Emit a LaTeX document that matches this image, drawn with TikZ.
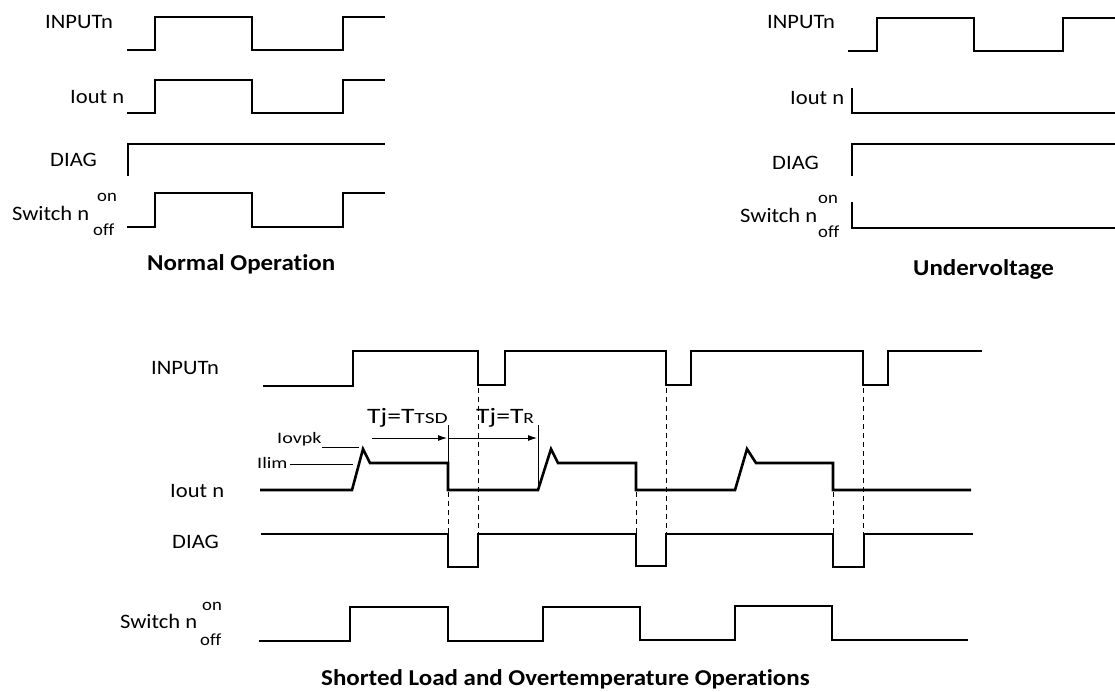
\documentclass[tikz,border=0pt]{standalone}
\usepackage{fontspec}
\setmainfont{Carlito}[FakeStretch=1.1, Ligatures=NoCommon]
\usetikzlibrary{arrows.meta}
\begin{document}
\begin{tikzpicture}[x=1pt,y=-1pt,
  lbl/.style={inner sep=0pt, anchor=base west, font=\fontsize{20.5}{24}\selectfont},
  onoff/.style={inner sep=0pt, anchor=base west, font=\fontsize{17}{20}\selectfont},
  ttl/.style={inner sep=0pt, anchor=base west, font=\fontsize{22.7}{26}\selectfont\bfseries},
  ann/.style={inner sep=0pt, anchor=base west, xscale=1.14, font=\fontsize{16}{19}\selectfont},
  tjl/.style={inner sep=0pt, anchor=base west, xscale=1.14, font=\fontsize{22}{26}\selectfont},
  wave/.style={line width=2.6pt, line join=miter},
  guide/.style={line width=0.8pt, dash pattern=on 5pt off 4pt},
  thinline/.style={line width=0.9pt},
  tarrow/.style={line width=0.9pt, -{Latex[length=9pt,width=6pt]}},
]
\useasboundingbox (0,0) rectangle (1115,691);

% ---------- Normal Operation ----------
\node[lbl] (nin) at (45,28) {INPUTn};
\node[lbl] (nio) at (70,103) {Iout n};
\node[lbl] (ndg) at (50,166) {DIAG};
\node[lbl] (nsw) at (12,220) {Switch n};
\node[onoff] (non) at (97,201) {on};
\node[onoff] (nof) at (93,235) {off};
\node[ttl] (ntt) at (147,270) {Normal Operation};

\draw[wave] (127,50) -- (155,50) -- (155,17) -- (252,17) -- (252,50) -- (343,50) -- (343,17) -- (385,17);
\draw[wave] (127,113) -- (155,113) -- (155,80) -- (252,80) -- (252,113) -- (343,113) -- (343,80) -- (385,80);
\draw[wave] (128,176) -- (128,144) -- (385,144);
\draw[wave] (127,227) -- (155,227) -- (155,193) -- (252,193) -- (252,227) -- (343,227) -- (343,193) -- (385,193);

% ---------- Undervoltage ----------
\node[lbl] (uin) at (767,28) {INPUTn};
\node[lbl] (uio) at (790,104) {Iout n};
\node[lbl] (udg) at (772,169) {DIAG};
\node[lbl] (usw) at (740,222) {Switch n};
\node[onoff] (uon) at (818,203) {on};
\node[onoff] (uof) at (818,237) {off};
\node[ttl] (utt) at (913,275) {Undervoltage};

\draw[wave] (848,51) -- (877,51) -- (877,18) -- (974,18) -- (974,51) -- (1063,51) -- (1063,18) -- (1115,18);
\draw[wave] (852,88) -- (852,113) -- (1115,113);
\draw[wave] (852,176) -- (852,144) -- (1115,144);
\draw[wave] (852,202) -- (852,228) -- (1115,228);

% ---------- Shorted Load and Overtemperature ----------
\node[lbl] (sin) at (151,374) {INPUTn};
\node[lbl] (sio) at (170,497) {Iout n};
\node[lbl] (sdg) at (172,548) {DIAG};
\node[lbl] (ssw) at (120,628) {Switch n};
\node[onoff] (son) at (202,610) {on};
\node[onoff] (sof) at (200,645) {off};
\node[ttl] (stt) at (321,685) {Shorted Load and Overtemperature Operations};

% INPUTn
\draw[wave] (263,386) -- (353,386) -- (353,351) -- (478,351) -- (478,385) -- (505,385) -- (505,351)
  -- (666,351) -- (666,385) -- (691,385) -- (691,351) -- (863,351) -- (863,385) -- (888,385) -- (888,351) -- (982,351);
% Iout n
\draw[wave] (260,490) -- (352,490) -- (363,449) -- (370,463) -- (448,463) -- (448,490) -- (538,490)
  -- (551,449) -- (558,463) -- (636,463) -- (636,490) -- (735,490) -- (747,449) -- (756,463)
  -- (833,463) -- (833,490) -- (971,490);
% DIAG
\draw[wave] (261,534) -- (448,534) -- (448,567) -- (478,567) -- (478,534) -- (636,534) -- (636,566)
  -- (666,566) -- (666,534) -- (833,534) -- (833,567) -- (864,567) -- (864,534) -- (973,534);
% Switch n
\draw[wave] (259,641) -- (350,641) -- (350,607) -- (448,607) -- (448,641) -- (543,641) -- (543,607)
  -- (640,607) -- (640,640) -- (735,640) -- (735,606) -- (832,606) -- (832,640) -- (968,640);

% dashed guides
\draw[guide] (448,492) -- (448,533);
\draw[guide] (478,388) -- (478,533);
\draw[guide] (636,492) -- (636,533);
\draw[guide] (666,388) -- (666,533);
\draw[guide] (833,492) -- (833,533);
\draw[guide] (863,388) -- (863,533);

% annotations
\node[ann] (iovpk) at (277,443) {Iovpk};
\node[ann] (ilim) at (257,468) {Ilim};
\coordinate (pk) at (359,447);
\coordinate (lm) at (353,464);
\draw[thinline] (322,447) -- (pk);
\draw[thinline] (290,464) -- (lm);

\node[tjl] (tsd) at (367,423) {Tj=T{\fontsize{15.5}{18}\selectfont\scalebox{1.1}[1]{TSD}}};
\node[tjl] (tr) at (476,423) {Tj=T{\fontsize{15.5}{18}\selectfont R}};
\coordinate (m1t) at (448,425);
\coordinate (m1b) at (448,463);
\coordinate (m2t) at (538,425);
\coordinate (m2b) at (538,490);
\coordinate (a1s) at (372,438);
\coordinate (a1e) at (447,438);
\coordinate (a2s) at (449,438);
\coordinate (a2e) at (537,438);
\draw[thinline] (m1t) -- (m1b);
\draw[thinline] (m2t) -- (m2b);
\draw[tarrow] (a1s) -- (a1e);
\draw[tarrow] (a2s) -- (a2e);
\end{tikzpicture}
\end{document}
